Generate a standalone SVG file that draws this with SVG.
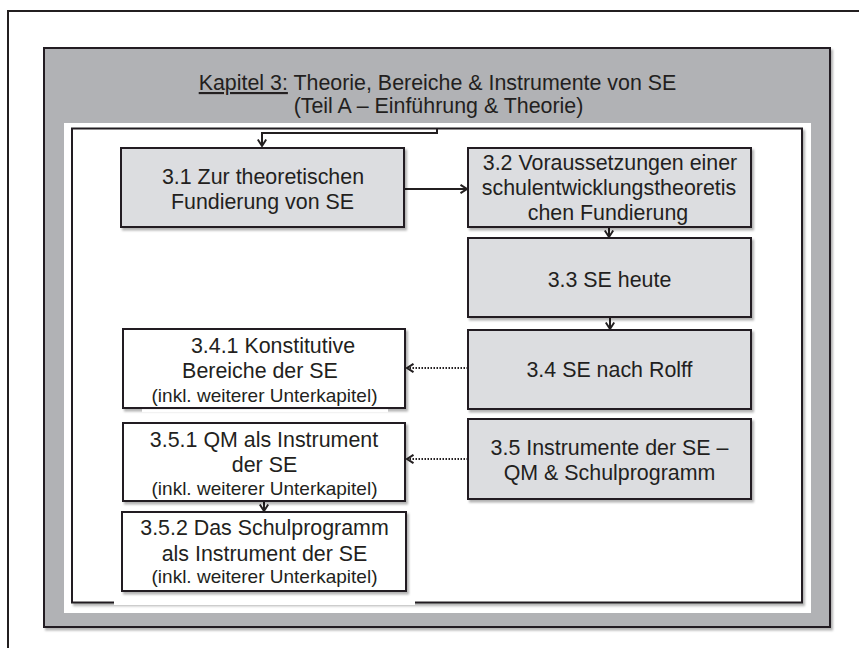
<svg xmlns="http://www.w3.org/2000/svg" width="859" height="648" viewBox="0 0 859 648">
  <defs>
    <style>
      text { font-family: "Liberation Sans", Arial, sans-serif; fill: #231f20; }
      .t { font-size: 21.4px; text-anchor: middle; }
      .s { font-size: 19px; text-anchor: middle; }
      .box { stroke: #231f20; stroke-width: 2; }
      .grey { fill: #dcdde0; }
      .white { fill: #ffffff; }
      .conn { fill: none; stroke: #231f20; stroke-width: 2; }
      .dot { fill: none; stroke: #231f20; stroke-width: 2; stroke-dasharray: 1.5 1.5; }
    </style>
    <filter id="shadow" x="-5%" y="-5%" width="115%" height="120%">
      <feDropShadow dx="2" dy="2.5" stdDeviation="1.2" flood-color="#000000" flood-opacity="0.3"/>
    </filter>
    <marker id="arrow" viewBox="0 0 10 10" refX="8.5" refY="5" markerWidth="10" markerHeight="10" markerUnits="userSpaceOnUse" orient="auto">
      <path d="M2,0.8 L8.5,5 L2,9.2" fill="none" stroke="#231f20" stroke-width="2"/>
    </marker>
  </defs>

  <!-- page frame (top and left edges) -->
  <path d="M8,648 V11 H859" fill="none" stroke="#231f20" stroke-width="2"/>

  <!-- chapter panel -->
  <g id="chapter">
    <rect x="44" y="48" width="786" height="579" fill="#b1b2b5" stroke="#231f20" stroke-width="2" filter="url(#shadow)"/>
    <text class="t" x="437.5" y="90"><tspan text-decoration="underline">Kapitel 3:</tspan> Theorie, Bereiche &amp; Instrumente von SE</text>
    <text class="t" x="438.5" y="113">(Teil A – Einführung &amp; Theorie)</text>
    <rect x="64" y="123" width="747" height="490" fill="#ffffff"/>
    <rect x="72" y="128.5" width="730" height="474" fill="#ffffff" stroke="#231f20" stroke-width="2" filter="url(#shadow)"/>
    <rect x="114" y="599" width="301" height="6" fill="#ffffff"/>
  </g>

  <!-- connectors -->
  <g id="connectors">
    <path class="conn" d="M437,129 V133 H262 V146" marker-end="url(#arrow)"/>
    <path class="conn" d="M405,189 H467" marker-end="url(#arrow)"/>
    <path class="conn" d="M609,227 V237" marker-end="url(#arrow)"/>
    <path class="conn" d="M610,317 V329" marker-end="url(#arrow)"/>
    <path class="dot" d="M468,368 H407" marker-end="url(#arrow)"/>
    <path class="dot" d="M468,459 H407" marker-end="url(#arrow)"/>
    <path class="conn" d="M264,501 V511" marker-end="url(#arrow)"/>
  </g>

  <g id="n31">
    <rect class="box grey" x="121" y="148" width="283" height="79" filter="url(#shadow)"/>
    <text class="t" x="263" y="184">3.1 Zur theoretischen</text>
    <text class="t" x="262.5" y="209">Fundierung von SE</text>
  </g>

  <g id="n32">
    <rect class="box grey" x="468" y="148" width="283" height="79" filter="url(#shadow)"/>
    <text class="t" x="610" y="170">3.2 Voraussetzungen einer</text>
    <text class="t" x="609" y="195">schulentwicklungstheoretis</text>
    <text class="t" x="608" y="220">chen Fundierung</text>
  </g>

  <g id="n33">
    <rect class="box grey" x="468" y="238" width="283" height="79" filter="url(#shadow)"/>
    <text class="t" x="609.5" y="287">3.3 SE heute</text>
  </g>

  <g id="n34">
    <rect class="box grey" x="468" y="330" width="283" height="79" filter="url(#shadow)"/>
    <text class="t" x="609.5" y="377">3.4 SE nach Rolff</text>
  </g>

  <g id="n35">
    <rect class="box grey" x="468" y="419" width="283" height="80" filter="url(#shadow)"/>
    <text class="t" x="609.5" y="455">3.5 Instrumente der SE –</text>
    <text class="t" x="609.5" y="480">QM &amp; Schulprogramm</text>
  </g>

  <g id="n341">
    <rect class="box white" x="123" y="329" width="282" height="79" filter="url(#shadow)"/>
    <rect x="142" y="409.2" width="246" height="3" fill="#ffffff"/>
    <text class="t" x="273" y="353">3.4.1 Konstitutive</text>
    <text class="t" x="260" y="378">Bereiche der SE</text>
    <text class="s" x="264.5" y="402">(inkl. weiterer Unterkapitel)</text>
  </g>

  <g id="n351">
    <rect class="box white" x="123" y="423" width="282" height="78" filter="url(#shadow)"/>
    <text class="t" x="264" y="447">3.5.1 QM als Instrument</text>
    <text class="t" x="264.5" y="472">der SE</text>
    <text class="s" x="264.5" y="495">(inkl. weiterer Unterkapitel)</text>
  </g>

  <g id="n352">
    <rect class="box white" x="122" y="512" width="284" height="79" filter="url(#shadow)"/>
    <text class="t" x="264.5" y="535">3.5.2 Das Schulprogramm</text>
    <text class="t" x="264.5" y="561">als Instrument der SE</text>
    <text class="s" x="264.5" y="583">(inkl. weiterer Unterkapitel)</text>
  </g>
</svg>
